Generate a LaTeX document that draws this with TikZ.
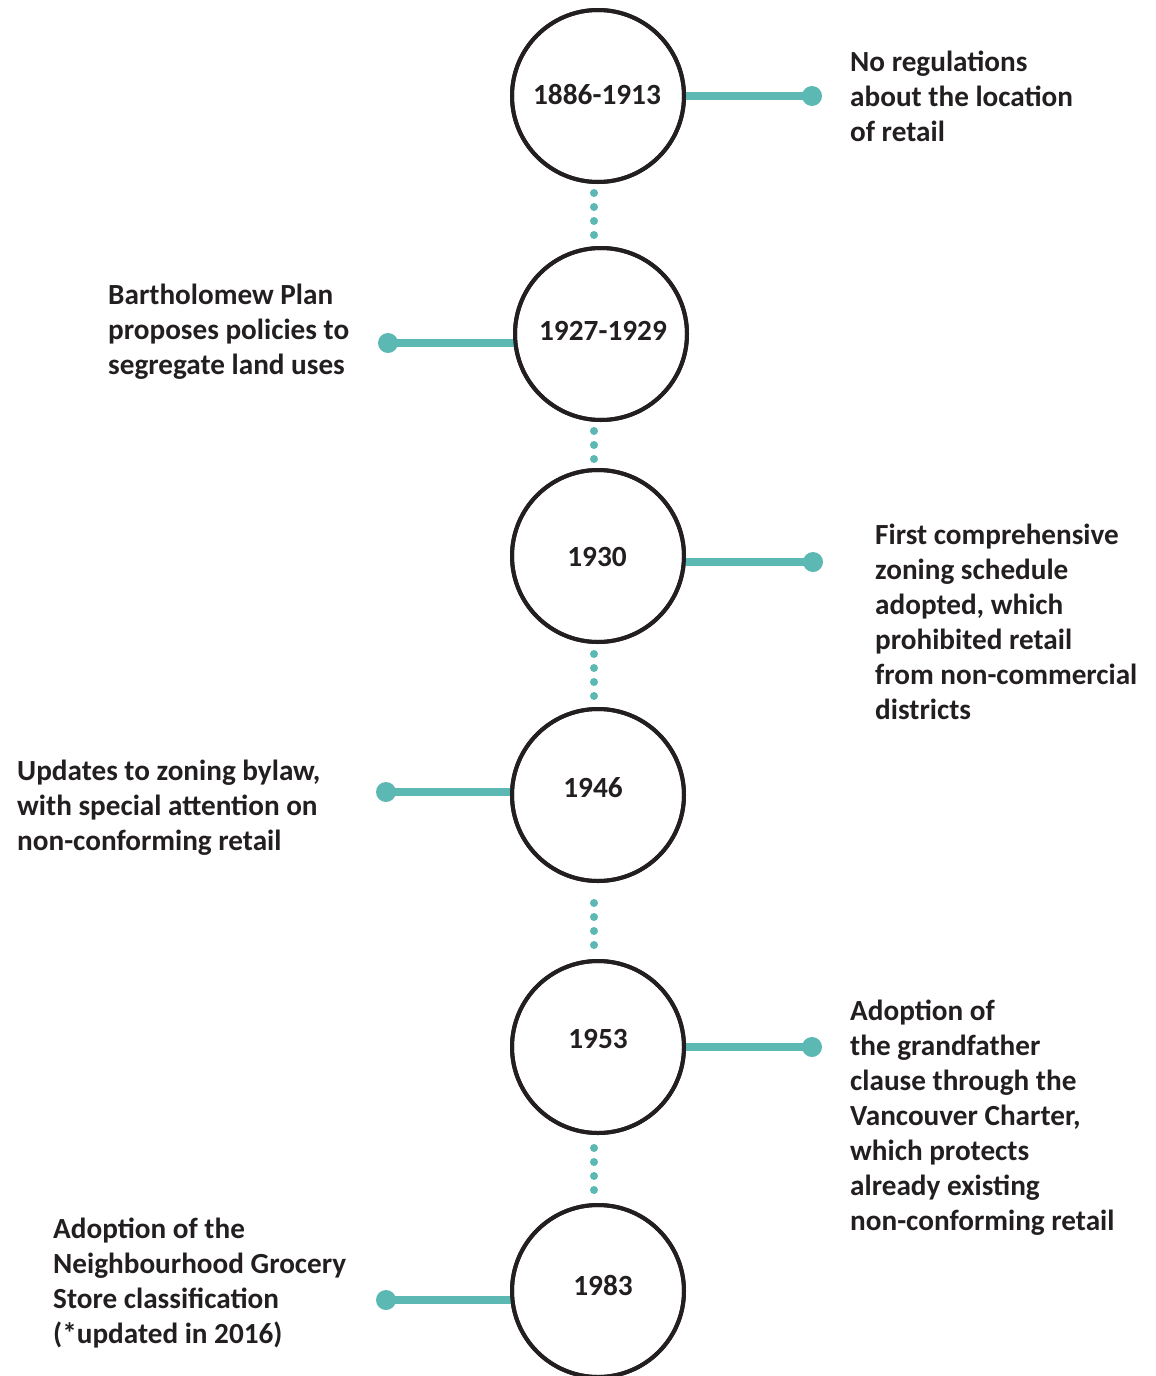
\documentclass[tikz,border=0pt]{standalone}
\usepackage{fontspec}
\setmainfont{Carlito}
\definecolor{teal}{HTML}{5BB8B2}
\definecolor{ink}{HTML}{231F20}
\begin{document}
\begin{tikzpicture}[x=1pt,y=-1pt,
  year/.style={circle,draw=ink,line width=4pt,fill=white,minimum size=172pt,inner sep=0pt,outer sep=0pt},
  yeartext/.style={font=\fontsize{29.3}{35}\selectfont\bfseries,text=ink,inner sep=0pt},
  note/.style={font=\fontsize{29.2}{35}\selectfont\bfseries,text=ink,align=left,anchor=west,inner sep=0pt},
  link/.style={draw=teal,line width=8pt},
  enddot/.style={fill=teal},
  dotline/.style={draw=teal,line width=8pt,line cap=round,dash pattern=on 0pt off 14pt}
]
\useasboundingbox (0,0) rectangle (1156,1376);
\coordinate (dx) at (594,0);
% connectors end points
\coordinate (d1) at (812,96);
\coordinate (d2) at (388,343);
\coordinate (d3) at (813,562);
\coordinate (d4) at (386,792);
\coordinate (d5) at (812,1047);
\coordinate (d6) at (386,1300);
% circles
\node[year] (c1) at (598,96) {};
\node[year] (c2) at (601,334) {};
\node[year] (c3) at (598,556) {};
\node[year] (c4) at (598,795) {};
\node[year] (c5) at (598,1047) {};
\node[year] (c6) at (598,1291) {};
% horizontal connectors
\draw[link] (c1.east) -- (d1);
\draw[link] (d2) -- (d2 -| c2.west);
\draw[link] (d3 -| c3.east) -- (d3);
\draw[link] (d4) -- (d4 -| c4.west);
\draw[link] (c5.east) -- (d5);
\draw[link] (d6) -- (d6 -| c6.west);
\foreach \d in {d1,d2,d3,d4,d5,d6} \fill[enddot] (\d) circle (10pt);
% redraw circle outlines over connector ends
\foreach \c in {c1,c2,c3,c4,c5,c6} \draw[ink,line width=4pt] (\c) circle (86pt);
% dotted connectors
\draw[dotline,shorten <=11pt,shorten >=11.5pt] (c1.south -| dx) -- (c2.north -| dx);
\draw[dotline,shorten <=11pt,shorten >=9.5pt] (c2.south -| dx) -- (c3.north -| dx);
\draw[dotline,shorten <=12pt,shorten >=12.5pt] (c3.south -| dx) -- (c4.north -| dx);
\draw[dotline,shorten <=22pt,shorten >=14.5pt] (c4.south -| dx) -- (c5.north -| dx);
\draw[dotline,shorten <=15pt,shorten >=13.5pt] (c5.south -| dx) -- (c6.north -| dx);
% year labels
\node[yeartext] (y1) at (597,94) {1886-1913};
\node[yeartext] (y2) at (603,331) {1927-1929};
\node[yeartext] (y3) at (597,557) {1930};
\node[yeartext] (y4) at (593,788) {1946};
\node[yeartext] (y5) at (598,1039) {1953};
\node[yeartext] (y6) at (603,1285) {1983};
% notes
\node[note] (t1) at (850,96) {No regulations\\about the location\\of retail};
\node[note] (t2) at (108,332) {Bartholomew Plan\\proposes policies to\\segregate land uses};
\node[note] (t3) at (875,622) {First comprehensive\\zoning schedule\\adopted, which\\prohibited retail\\from non-commercial\\districts};
\node[note] (t4) at (17,808) {Updates to zoning bylaw,\\with special attention on\\non-conforming retail};
\node[note] (t5) at (850,1118) {Adoption of\\the grandfather\\clause through the\\Vancouver Charter,\\which protects\\already existing\\non-conforming retail};
\node[note] (t6) at (53,1283) {Adoption of the\\Neighbourhood Grocery\\Store classification\\(*updated in 2016)};
\end{tikzpicture}
\end{document}
